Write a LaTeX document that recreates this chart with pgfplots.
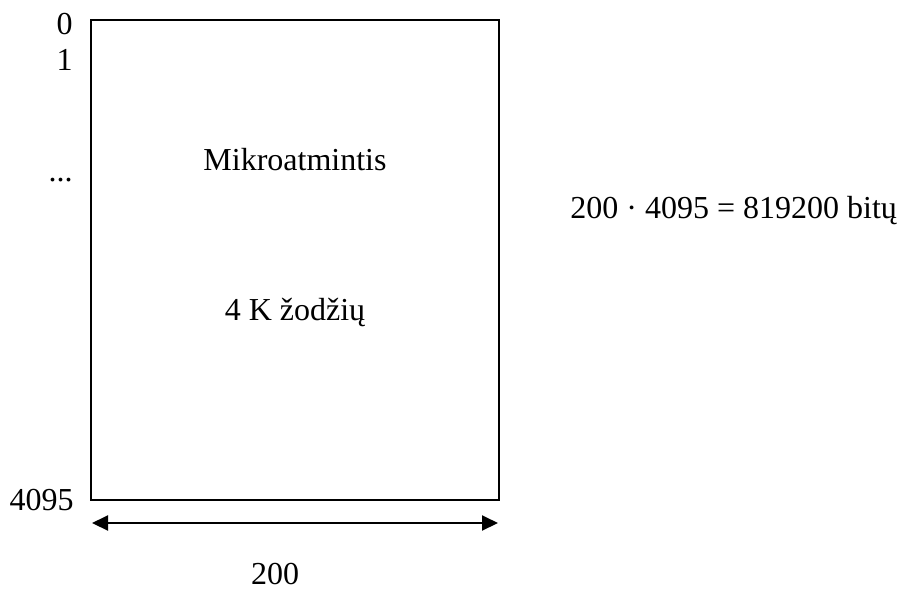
\documentclass[border=0pt]{standalone}
\usepackage{fontspec}
\setmainfont{Liberation Serif}
\usepackage{pgfplots}
\pgfplotsset{compat=1.18}
\usetikzlibrary{arrows.meta}
\begin{document}
\fontsize{16}{19}\selectfont
\begin{tikzpicture}[font=\fontsize{16}{19}\selectfont]
\begin{axis}[
  scale only axis,
  width=449.5pt, height=295pt,
  xmin=0, xmax=899, ymin=0, ymax=590,
  y dir=reverse,
  hide axis,
  clip=false,
]
\path (axis cs:0,0) (axis cs:899,590);
% memory block
\addplot[black, line width=1pt, mark=none, line join=miter] coordinates {(91,20) (499,20) (499,500) (91,500)} -- cycle;
% width arrow
\addplot[black, line width=1pt, mark=none, {Triangle[length=8pt,width=7.5pt]}-{Triangle[length=8pt,width=7.5pt]}] coordinates {(92,523) (498,523)};
% address labels
\node[font=\fontsize{16}{19}\selectfont, inner sep=0pt, anchor=base east] at (axis cs:73,34) {0};
\node[font=\fontsize{16}{19}\selectfont, inner sep=0pt, anchor=base east] at (axis cs:73,70) {1};
\node[font=\fontsize{16}{19}\selectfont, inner sep=0pt, anchor=base east] at (axis cs:73,181) {...};
\node[font=\fontsize{16}{19}\selectfont, inner sep=0pt, anchor=base east] at (axis cs:74,510) {4095};
% inside texts
\node[font=\fontsize{16}{19}\selectfont, inner sep=0pt, anchor=base] at (axis cs:295,170) {Mikroatmintis};
\node[font=\fontsize{16}{19}\selectfont, inner sep=0pt, anchor=base] at (axis cs:295,320) {4 K žodžių};
% bottom width
\node[font=\fontsize{16}{19}\selectfont, inner sep=0pt, anchor=base] at (axis cs:275,584) {200};
% formula
\node[font=\fontsize{16}{19}\selectfont, inner sep=0pt, anchor=base west] at (axis cs:570,218) {200 · 4095 = 819200 bitų};
\end{axis}
\end{tikzpicture}
\end{document}
